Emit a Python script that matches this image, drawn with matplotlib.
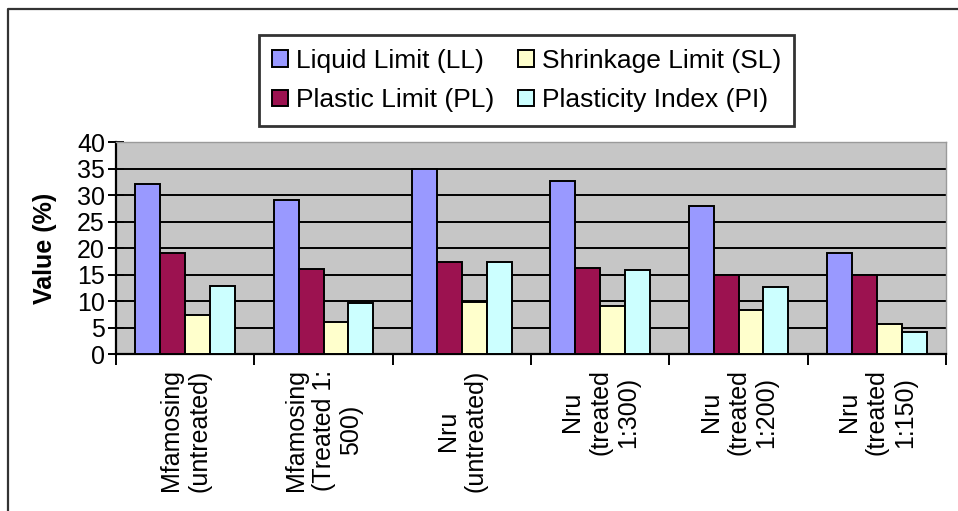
import numpy as np
import matplotlib
matplotlib.use('Agg')
import matplotlib.pyplot as plt
from matplotlib.lines import Line2D

plt.rcParams['font.family'] = ['Liberation Sans', 'DejaVu Sans']

samples = ['Mfamosing\n(untreated)', 'Mfamosing\n(Treated 1:\n500)', 'Nru\n(untreated)',
           'Nru\n(treated\n1:300)', 'Nru\n(treated\n1:200)', 'Nru\n(treated\n1:150)']

liquid_limit = [32.0, 29.1, 35.0, 32.7, 27.9, 19.0]
plastic_limit = [19.0, 16.0, 17.4, 16.3, 15.0, 14.9]
shrinkage_limit = [7.4, 6.1, 9.9, 9.1, 8.3, 5.7]
plasticity_index = [12.8, 9.7, 17.4, 15.9, 12.7, 4.1]

series = [
    ('Liquid Limit (LL)', liquid_limit, '#9999ff'),
    ('Plastic Limit (PL)', plastic_limit, '#9c1250'),
    ('Shrinkage Limit (SL)', shrinkage_limit, '#ffffcc'),
    ('Plasticity Index (PI)', plasticity_index, '#ccffff'),
]

fig = plt.figure(figsize=(9.58, 5.11), dpi=100)
ax = fig.add_axes([0.1211, 0.3072, 0.8664, 0.4149])
ax.set_facecolor('#c6c6c6')

x = np.arange(len(samples))
w = 0.18
bars = {}
for j, (name, vals, col) in enumerate(series):
    bars[name] = ax.bar(x + (j - 1.5) * w, vals, w, color=col, edgecolor='black',
                        linewidth=1.4, zorder=3, label=name)

ax.set_xlim(-0.5, len(samples) - 0.5)
ax.set_ylim(0, 40)
ax.set_yticks(np.arange(0, 41, 5))
ax.yaxis.grid(True, color='black', linewidth=1.4, zorder=1)
ax.set_axisbelow(True)
ax.tick_params(axis='y', direction='inout', length=12, width=1.4, labelsize=18, pad=2)

# group labels at centres, tick marks on the group boundaries
ax.set_xticks(x)
ax.set_xticklabels(samples, rotation=90, fontsize=18, linespacing=1.2,
                   multialignment='center')
ax.set_xticks(np.arange(len(samples) + 1) - 0.5, minor=True)
ax.tick_params(axis='x', which='major', length=0, pad=11)
ax.tick_params(axis='x', which='minor', direction='out', length=8, width=1.4)

for side in ['left', 'bottom']:
    ax.spines[side].set_linewidth(1.6)
for side in ['top', 'right']:
    ax.spines[side].set_color('#9a9a9a')
    ax.spines[side].set_linewidth(1.0)

ax.set_ylabel('Value (%)', fontsize=18, fontweight='bold', labelpad=14)

handles = [bars[s[0]] for s in series]
leg = fig.legend(handles, [s[0] for s in series],
                 loc='center', bbox_to_anchor=(0.5496, 0.8425), ncol=2,
                 fontsize=19, frameon=True, fancybox=False, edgecolor='black',
                 handlelength=0.6, handleheight=0.6, handletextpad=0.3,
                 columnspacing=0.9, borderpad=0.5, labelspacing=0.6)
leg.get_frame().set_linewidth(2.0)

# outer frame, clipped at right and bottom
fig.add_artist(Line2D([8 / 958, 8 / 958, 1.0], [0.0, 1 - 9 / 511, 1 - 9 / 511],
                      transform=fig.transFigure, color='#333333', linewidth=1.6))

fig.savefig('out.png', dpi=100)
